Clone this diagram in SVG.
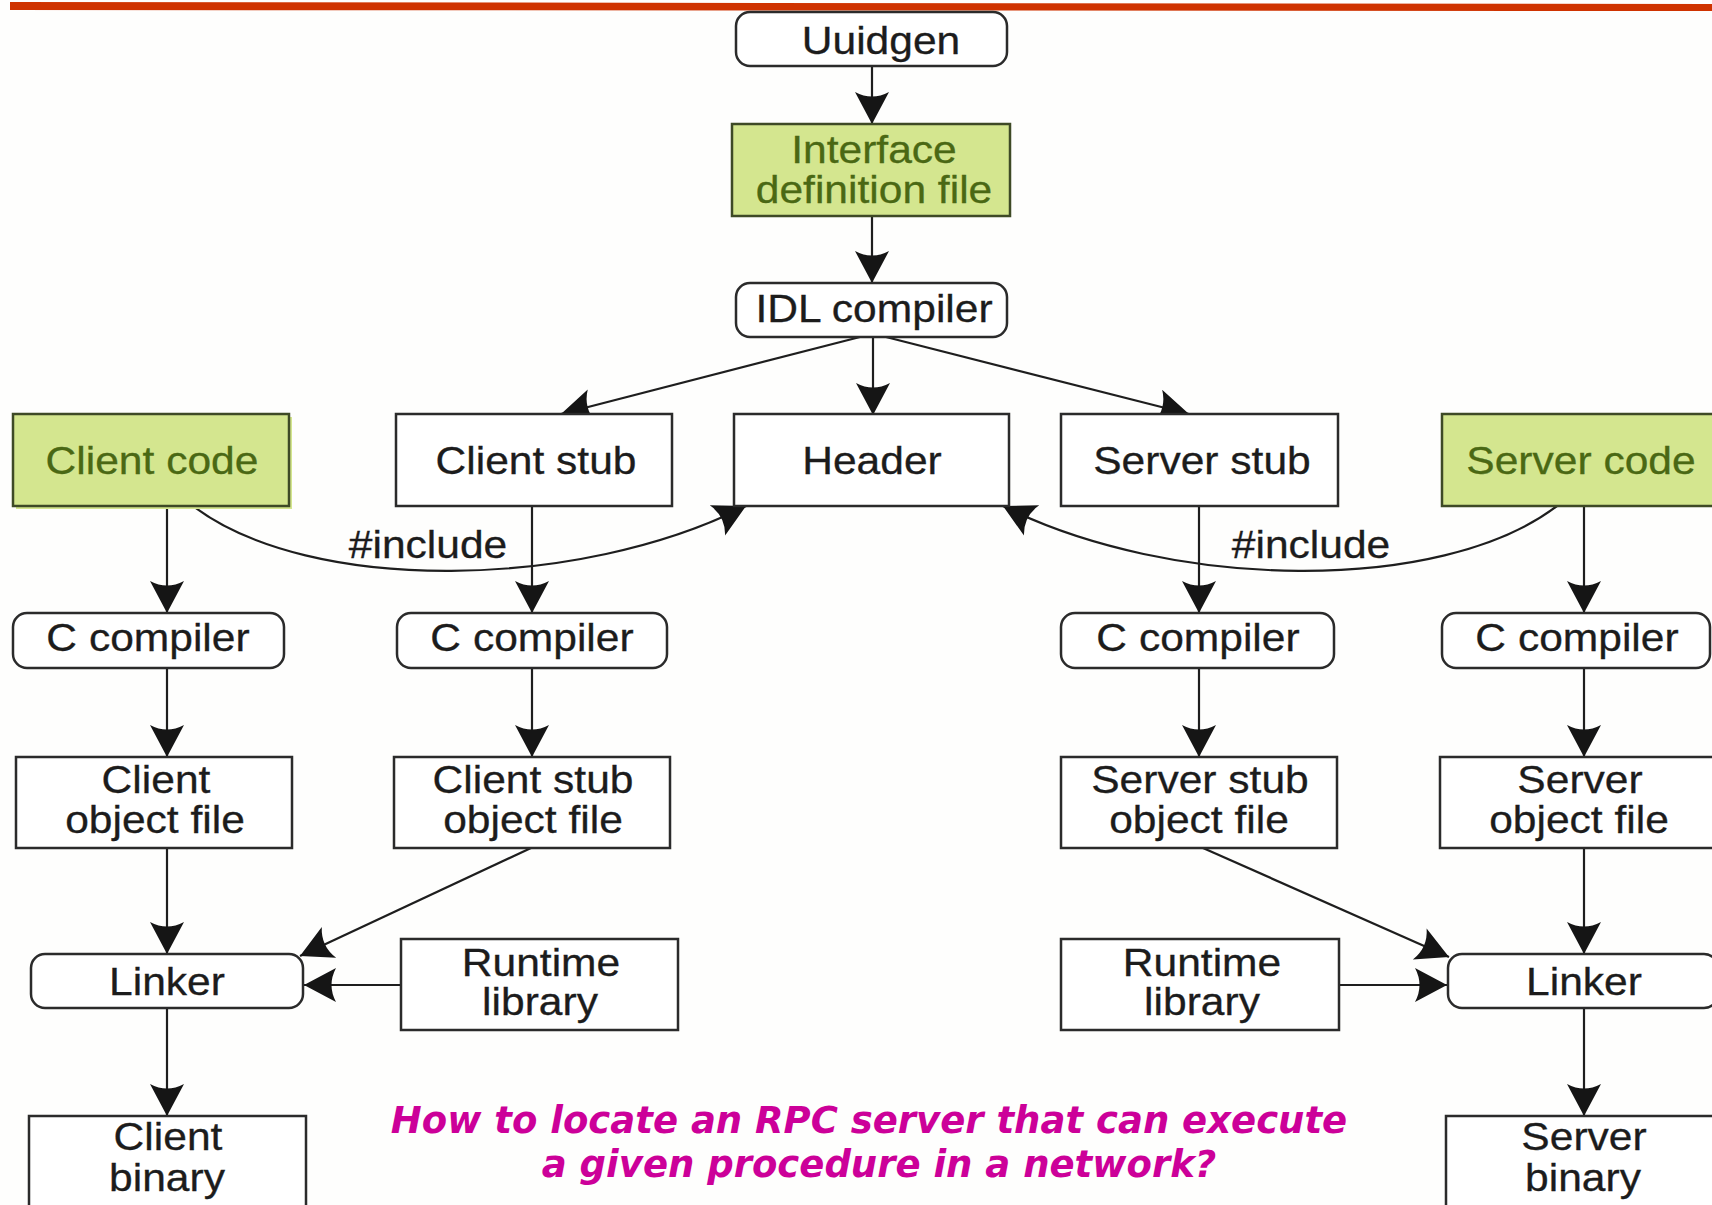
<svg xmlns="http://www.w3.org/2000/svg" width="1712" height="1205" viewBox="0 0 1712 1205">
  <defs>
    <style>
      .box { fill:#ffffff; stroke:#2b2b2b; stroke-width:2.5; }
      .green { fill:#d4e68f; stroke:#3e4a26; stroke-width:2.5; }
      .halo { fill:#d4e68f; stroke:none; }
      .t { font-family:"Liberation Sans", Arial, sans-serif; font-size:38px; fill:#1c1c1c; text-anchor:middle; stroke:#1c1c1c; stroke-width:0.3; }
      .tg { fill:#4a6814; stroke:#4a6814; }
      .edge { fill:none; stroke:#1e1e1e; stroke-width:2.2; marker-end:url(#ah); }
      .q { font-family:"DejaVu Sans", sans-serif; font-weight:bold; font-style:italic; font-size:37px; fill:#cc0099; text-anchor:middle; }
    </style>
    <!-- barbed arrowhead, tip at the path end -->
    <marker id="ah" viewBox="-34 -19 36 38" refX="0" refY="0" markerWidth="36" markerHeight="38" markerUnits="userSpaceOnUse" orient="auto">
      <path d="M0,0 L-32,-17 Q-23,0 -32,17 Z" fill="#151515"/>
    </marker>
  </defs>

  <rect x="0" y="0" width="1712" height="1205" fill="#fefefd"/>
  <!-- title rule -->
  <polygon points="10,2 1712,4 1712,11 10,10" fill="#cf3300"/>

  <!-- connectors -->
  <g id="connectors">
    <path class="edge" d="M872,66 L872,124"/>
    <path class="edge" d="M872,216 L872,283"/>
    <path class="edge" d="M860,337 L561,414"/>
    <path class="edge" d="M873,337 L873,415"/>
    <path class="edge" d="M886,337 L1189,414"/>
    <path class="edge" d="M167,506 L167,613"/>
    <path class="edge" d="M532,506 L532,613"/>
    <path class="edge" d="M1199,506 L1199,613"/>
    <path class="edge" d="M1584,506 L1584,613"/>
    <path class="edge" d="M167,668 L167,757"/>
    <path class="edge" d="M532,668 L532,757"/>
    <path class="edge" d="M1199,668 L1199,757"/>
    <path class="edge" d="M1584,668 L1584,757"/>
    <path class="edge" d="M167,848 L167,954"/>
    <path class="edge" d="M531,848 L300,956"/>
    <path class="edge" d="M401,985 L304,985"/>
    <path class="edge" d="M167,1008 L167,1116"/>
    <path class="edge" d="M1584,848 L1584,954"/>
    <path class="edge" d="M1203,848 L1449,957"/>
    <path class="edge" d="M1339,985 L1447,985"/>
    <path class="edge" d="M1584,1008 L1584,1116"/>
    <path class="edge" d="M193,506 C310,595 580,590 746,506"/>
    <path class="edge" d="M1557,506 C1440,595 1170,590 1003,506"/>
    <text class="t" transform="translate(428,558) scale(1.12,1)">#include</text>
    <text class="t" transform="translate(1311,558) scale(1.12,1)">#include</text>
  </g>

  <g id="uuidgen">
    <rect class="box" x="736" y="12" width="271" height="54" rx="14"/>
    <text class="t" transform="translate(881,54) scale(1.12,1)">Uuidgen</text>
  </g>
  <g id="interface-definition-file">
    <rect class="green" x="732" y="124" width="278" height="92"/>
    <text class="t tg" transform="translate(874,163) scale(1.12,1)">Interface</text>
    <text class="t tg" transform="translate(874,203) scale(1.12,1)">definition file</text>
  </g>
  <g id="idl-compiler">
    <rect class="box" x="736" y="283" width="271" height="54" rx="14"/>
    <text class="t" transform="translate(874,322) scale(1.12,1)">IDL compiler</text>
  </g>

  <g id="client-code">
    <rect class="halo" x="16" y="417" width="276" height="92"/>
    <rect class="green" x="13" y="414" width="276" height="92"/>
    <text class="t tg" transform="translate(152,474) scale(1.12,1)">Client code</text>
  </g>
  <g id="client-stub">
    <rect class="box" x="396" y="414" width="276" height="92"/>
    <text class="t" transform="translate(536,474) scale(1.12,1)">Client stub</text>
  </g>
  <g id="header">
    <rect class="box" x="734" y="414" width="275" height="92"/>
    <text class="t" transform="translate(872,474) scale(1.12,1)">Header</text>
  </g>
  <g id="server-stub">
    <rect class="box" x="1061" y="414" width="277" height="92"/>
    <text class="t" transform="translate(1202,474) scale(1.12,1)">Server stub</text>
  </g>
  <g id="server-code">
    <rect class="green" x="1442" y="414" width="290" height="92"/>
    <text class="t tg" transform="translate(1581,474) scale(1.12,1)">Server code</text>
  </g>

  <g id="c-compiler-client">
    <rect class="box" x="13" y="613" width="271" height="55" rx="14"/>
    <text class="t" transform="translate(148,651) scale(1.12,1)">C compiler</text>
  </g>
  <g id="c-compiler-client-stub">
    <rect class="box" x="397" y="613" width="270" height="55" rx="14"/>
    <text class="t" transform="translate(532,651) scale(1.12,1)">C compiler</text>
  </g>
  <g id="c-compiler-server-stub">
    <rect class="box" x="1061" y="613" width="273" height="55" rx="14"/>
    <text class="t" transform="translate(1198,651) scale(1.12,1)">C compiler</text>
  </g>
  <g id="c-compiler-server">
    <rect class="box" x="1442" y="613" width="268" height="55" rx="14"/>
    <text class="t" transform="translate(1577,651) scale(1.12,1)">C compiler</text>
  </g>

  <g id="client-object-file">
    <rect class="box" x="16" y="757" width="276" height="91"/>
    <text class="t" transform="translate(156,793) scale(1.12,1)">Client</text>
    <text class="t" transform="translate(155,833) scale(1.12,1)">object file</text>
  </g>
  <g id="client-stub-object-file">
    <rect class="box" x="394" y="757" width="276" height="91"/>
    <text class="t" transform="translate(533,793) scale(1.12,1)">Client stub</text>
    <text class="t" transform="translate(533,833) scale(1.12,1)">object file</text>
  </g>
  <g id="server-stub-object-file">
    <rect class="box" x="1061" y="757" width="276" height="91"/>
    <text class="t" transform="translate(1200,793) scale(1.12,1)">Server stub</text>
    <text class="t" transform="translate(1199,833) scale(1.12,1)">object file</text>
  </g>
  <g id="server-object-file">
    <rect class="box" x="1440" y="757" width="290" height="91"/>
    <text class="t" transform="translate(1580,793) scale(1.12,1)">Server</text>
    <text class="t" transform="translate(1579,833) scale(1.12,1)">object file</text>
  </g>

  <g id="linker-client">
    <rect class="box" x="31" y="954" width="272" height="54" rx="14"/>
    <text class="t" transform="translate(167,995) scale(1.12,1)">Linker</text>
  </g>
  <g id="runtime-library-client">
    <rect class="box" x="401" y="939" width="277" height="91"/>
    <text class="t" transform="translate(541,976) scale(1.12,1)">Runtime</text>
    <text class="t" transform="translate(540,1015) scale(1.12,1)">library</text>
  </g>
  <g id="runtime-library-server">
    <rect class="box" x="1061" y="939" width="278" height="91"/>
    <text class="t" transform="translate(1202,976) scale(1.12,1)">Runtime</text>
    <text class="t" transform="translate(1202,1015) scale(1.12,1)">library</text>
  </g>
  <g id="linker-server">
    <rect class="box" x="1448" y="954" width="270" height="54" rx="14"/>
    <text class="t" transform="translate(1584,995) scale(1.12,1)">Linker</text>
  </g>

  <g id="client-binary">
    <rect class="box" x="29" y="1116" width="277" height="120"/>
    <text class="t" transform="translate(168,1150) scale(1.12,1)">Client</text>
    <text class="t" transform="translate(167,1191) scale(1.12,1)">binary</text>
  </g>
  <g id="server-binary">
    <rect class="box" x="1446" y="1116" width="290" height="120"/>
    <text class="t" transform="translate(1584,1150) scale(1.12,1)">Server</text>
    <text class="t" transform="translate(1583,1191) scale(1.12,1)">binary</text>
  </g>

  <g id="question">
    <text class="q" x="869" y="1133">How to locate an RPC server that can execute</text>
    <text class="q" x="879" y="1177">a given procedure in a network?</text>
  </g>
</svg>
